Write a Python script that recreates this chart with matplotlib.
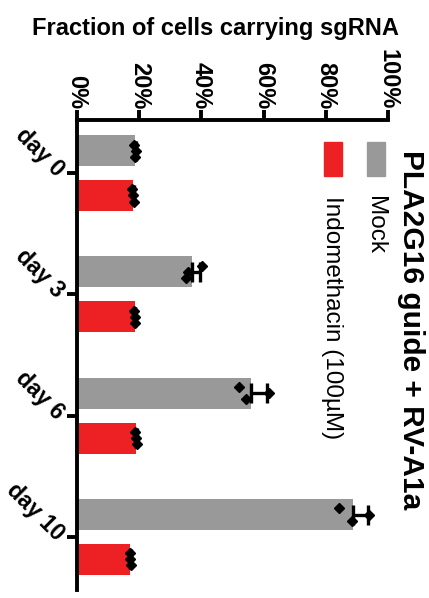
import numpy as np
import matplotlib
matplotlib.use('Agg')
import matplotlib.pyplot as plt
from matplotlib.patches import Rectangle

plt.rcParams['font.family'] = ['Liberation Sans', 'DejaVu Sans']

days = ['day 0', 'day 3', 'day 6', 'day 10']
# three replicate values (%) per day, in order of jitter slot
mock_pts = [[18.3, 18.6, 18.9],
            [40.1, 34.9, 35.7],
            [52.2, 54.3, 61.8],
            [84.3, 88.3, 93.9]]
indo_pts = [[17.6, 18.2, 17.9],
            [18.2, 18.8, 18.5],
            [18.8, 19.4, 19.1],
            [16.9, 17.5, 17.2]]
xticks = [0, 20, 40, 60, 80, 100]
xticklabels = ['0%', '20%', '40%', '60%', '80%', '100%']

gray = '#999999'
red = '#ED2024'

fig = plt.figure(figsize=(4.29, 5.98), dpi=100)
ax = fig.add_axes([77/429, 8/598, 311/429, 470/598])

pos = np.arange(len(days))
jitter = np.array([-0.05, 0.05, 0.0])
off = 0.185
h = 0.256

for pts, color, d in [(mock_pts, gray, -off), (indo_pts, red, off)]:
    pts = np.array(pts)
    means = pts.mean(axis=1)
    sds = pts.std(axis=1, ddof=1)
    ax.barh(pos + d, means, height=h, color=color, zorder=1)
    ax.errorbar(means, pos + d, xerr=[np.zeros_like(sds), sds], fmt='none',
                ecolor='black', elinewidth=2.4, capsize=7, capthick=2.4, zorder=2)
    for i in range(len(days)):
        ax.plot(pts[i], pos[i] + d + jitter, 'D', color='black', ms=5.3,
                mec='black', zorder=3, linestyle='none')

ax.set_xlim(0, 100)
ax.set_ylim(len(days) - 1 + 0.437, -0.437)

ax.xaxis.tick_top()
ax.set_xticks(xticks)
ax.set_xticklabels(xticklabels, rotation=-90, fontsize=17, fontweight='bold',
                   ha='center', va='bottom')
ax.set_yticks(pos)
ax.set_yticklabels(days, rotation=-45, fontsize=16.5, fontweight='bold',
                   ha='right', va='center', rotation_mode='anchor')
ax.tick_params(axis='x', length=7, width=2.8, pad=1)
ax.tick_params(axis='y', length=7, width=2.8, pad=5)

for s in ['right', 'bottom']:
    ax.spines[s].set_visible(False)
for s in ['top', 'left']:
    ax.spines[s].set_linewidth(2.8)

fig.text(215/429, 1 - 29/598, 'Fraction of cells carrying sgRNA', fontsize=17,
         fontweight='bold', ha='center', va='center')

fig.text(411/429, 1 - 330/598, 'PLA2G16 guide + RV-A1a', rotation=-90,
         fontsize=21.5, fontweight='bold', ha='center', va='center')

# legend, drawn rotated
fig.patches.append(Rectangle((367/429, 1 - 176/598), 18/429, 34/598,
                             transform=fig.transFigure, color=gray))
fig.patches.append(Rectangle((324/429, 1 - 176/598), 18/429, 34/598,
                             transform=fig.transFigure, color=red))
fig.text(375/429, 1 - 196/598, 'Mock', rotation=-90, fontsize=17.5,
         ha='center', va='top')
fig.text(332/429, 1 - 196/598, 'Indomethacin (100µM)', rotation=-90,
         fontsize=17.5, ha='center', va='top')

fig.savefig('out.png', dpi=100)
